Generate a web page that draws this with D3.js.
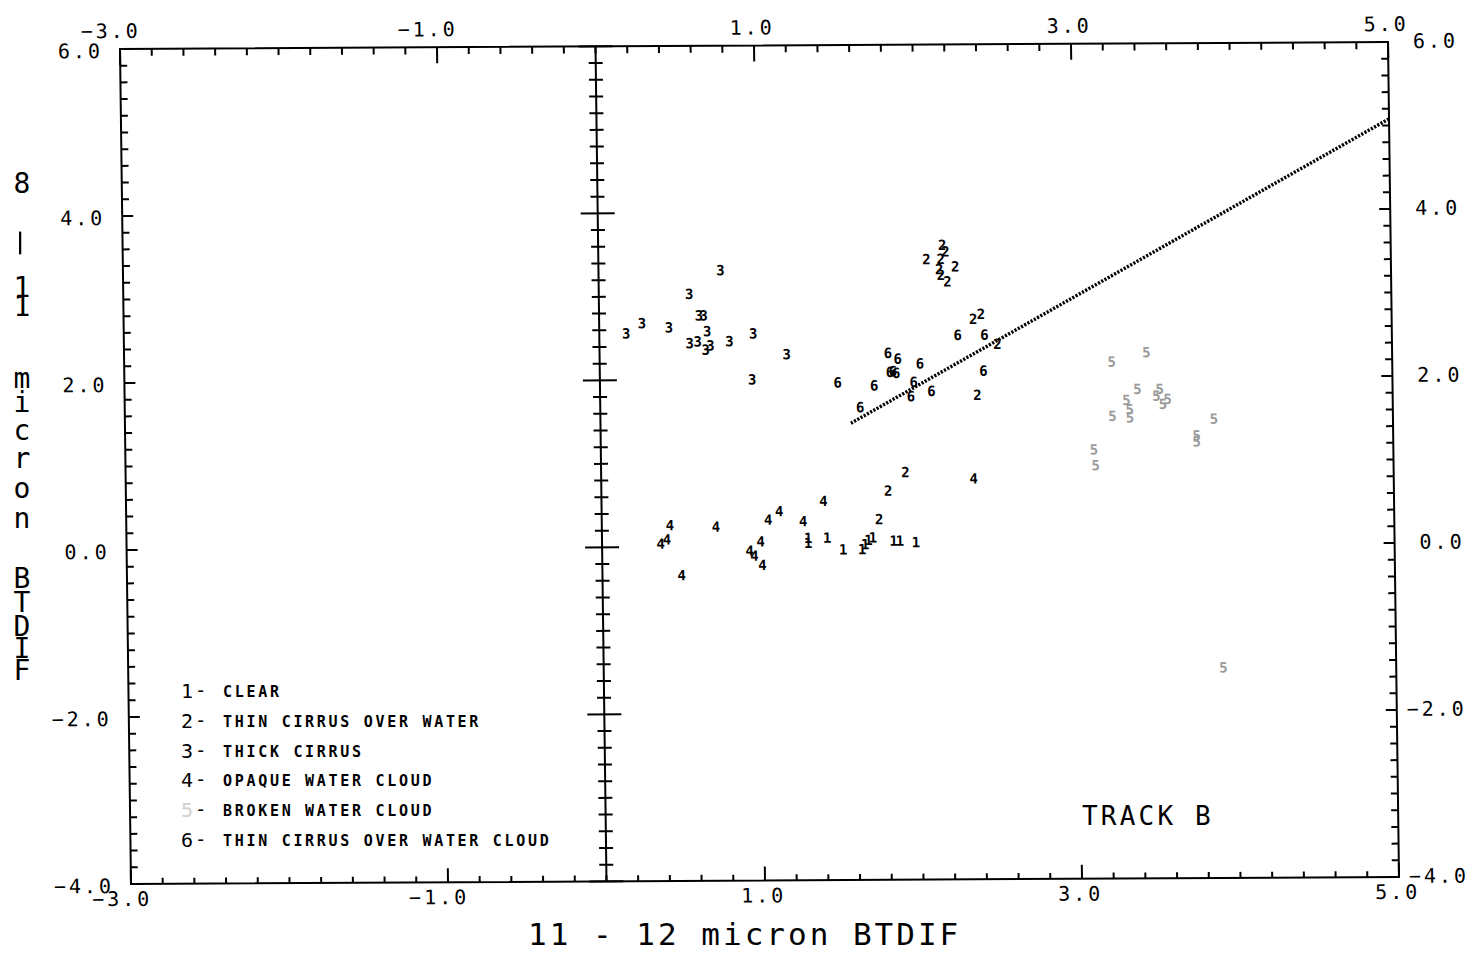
<!DOCTYPE html>
<html><head><meta charset="utf-8">
<script src="https://cdn.jsdelivr.net/npm/d3@7"></script>
<style>body{margin:0;background:#fff}svg{display:block}</style>
</head><body>
<svg id="c" width="1484" height="954"></svg>
<script>
// ---------------- data ----------------
const xTickLabels = [-3, -1, 1, 3, 5];
const yTickLabels = [6, 4, 2, 0, -2, -4];
const legendKeys = ["1", "2", "3", "4", "5", "6"];
const legendNames = ["CLEAR", "THIN CIRRUS OVER WATER", "THICK CIRRUS",
  "OPAQUE WATER CLOUD", "BROKEN WATER CLOUD", "THIN CIRRUS OVER WATER CLOUD"];

const clear = [[1.30,0.10],[1.30,0.04],[1.42,0.10],[1.52,-0.04],[1.64,-0.04],[1.66,0.02],
  [1.68,0.07],[1.71,0.10],[1.84,0.06],[1.88,0.06],[1.98,0.04]];
const thinCirrusWater = [[2.07,3.43],[2.17,3.60],[2.19,3.52],[2.16,3.43],[2.25,3.34],[2.15,3.31],
  [2.16,3.24],[2.20,3.16],[2.36,2.71],[2.41,2.77],[2.51,2.41],[2.38,1.80],[1.75,0.32],[1.81,0.66],[1.92,0.88]];
const thickCirrus = [[0.77,3.31],[0.57,3.03],[0.63,2.77],[0.66,2.77],[0.27,2.68],[0.44,2.63],[0.17,2.56],
  [0.68,2.58],[0.57,2.44],[0.62,2.46],[0.70,2.41],[0.67,2.36],[0.82,2.46],[0.97,2.55],[1.18,2.30],[0.96,2.00]];
const opaqueWater = [[0.43,0.26],[0.37,0.04],[0.41,0.09],[0.50,-0.34],[0.72,0.24],[0.93,-0.05],[0.96,-0.11],
  [1.00,0.06],[1.01,-0.22],[1.05,0.32],[1.12,0.42],[1.27,0.30],[1.40,0.54],[2.35,0.80]];
const brokenWater = [[3.45,2.30],[3.23,2.19],[3.39,1.86],[3.53,1.86],[3.58,1.74],[3.51,1.78],[3.55,1.68],
  [3.32,1.73],[3.34,1.62],[3.23,1.54],[3.34,1.52],[3.11,1.14],[3.12,0.95],[3.76,1.30],[3.76,1.23],[3.87,1.50],[3.91,-1.48]];
const thinCirrusCloud = [[1.82,2.31],[1.88,2.24],[1.85,2.09],[1.87,2.07],[1.83,2.08],[2.02,2.18],[1.50,1.96],
  [1.73,1.92],[1.98,1.96],[1.96,1.79],[2.09,1.85],[2.42,2.09],[1.64,1.66],[2.26,2.52],[2.43,2.52]];

const fitX = [1.58, 5.0];
const fitY = [1.47, 5.08];

// ---------------- chart ----------------
const W = 1268, H = 835;
const x = d3.scaleLinear().domain([-3, 5]).range([0, W]);
const y = d3.scaleLinear().domain([-4, 6]).range([H, 0]);
const svg = d3.select("#c");
const mono = "'DejaVu Sans Mono', monospace";

const g = svg.append("g")
  .attr("transform", `matrix(1,${-7/1268},${11/835},1,120,49)`);

g.append("rect").attr("x", 0).attr("y", 0).attr("width", W).attr("height", H)
  .attr("fill", "none").attr("stroke", "#000").attr("stroke-width", 2);

const isMajor = (v, arr) => arr.some(a => Math.abs(a - v) < 1e-6);
const xt = x.ticks(40), yt = y.ticks(50);
const tk = g.append("g").attr("stroke", "#000").attr("stroke-width", 2);

// top & bottom ticks
xt.forEach(v => {
  const m = isMajor(v, xTickLabels);
  tk.append("line").attr("x1", x(v)).attr("x2", x(v)).attr("y1", 0).attr("y2", m ? 16 : 7);
  tk.append("line").attr("x1", x(v)).attr("x2", x(v)).attr("y1", H).attr("y2", H - (m ? 14 : 6));
});
// left, right and centre ticks
yt.forEach(v => {
  const m = isMajor(v, yTickLabels);
  tk.append("line").attr("x1", 0).attr("x2", m ? 11 : 7).attr("y1", y(v)).attr("y2", y(v));
  tk.append("line").attr("x1", W).attr("x2", W - (m ? 11 : 7)).attr("y1", y(v)).attr("y2", y(v));
  const h = m ? 17 : 7;
  tk.append("line").attr("x1", x(0) - h).attr("x2", x(0) + h).attr("y1", y(v)).attr("y2", y(v));
});
// centre vertical axis
g.append("line").attr("x1", x(0)).attr("x2", x(0)).attr("y1", 0).attr("y2", H)
  .attr("stroke", "#000").attr("stroke-width", 2);

const fmt = d3.format(".1f");
const lab = g.append("g").attr("font-family", mono).attr("font-size", 20)
  .attr("letter-spacing", 3).attr("fill", "#000");
xTickLabels.forEach(v => {
  lab.append("text").attr("x", x(v) + 21).attr("y", -11).attr("text-anchor", "end").text(fmt(v));
  lab.append("text").attr("x", x(v) + 21).attr("y", H + 22).attr("text-anchor", "end").text(fmt(v));
});
yTickLabels.forEach(v => {
  lab.append("text").attr("x", -17).attr("y", y(v) + 9).attr("text-anchor", "end").text(fmt(v));
  lab.append("text").attr("x", W + 70).attr("y", y(v) + 6).attr("text-anchor", "end").text(fmt(v));
});

// regression line (dotted)
g.append("line").attr("x1", x(fitX[0])).attr("y1", y(fitY[0]))
  .attr("x2", x(fitX[1])).attr("y2", y(fitY[1]))
  .attr("stroke", "#000").attr("stroke-width", 3.4).attr("stroke-dasharray", "2.2,1.5");

// point markers (class digits)
const series = [
  {k: "1", d: clear, c: "#000"},
  {k: "2", d: thinCirrusWater, c: "#000"},
  {k: "3", d: thickCirrus, c: "#000"},
  {k: "4", d: opaqueWater, c: "#000"},
  {k: "5", d: brokenWater, c: "#9a9a9a"},
  {k: "6", d: thinCirrusCloud, c: "#000"}
];
const pts = g.append("g").attr("font-family", mono).attr("font-weight", "bold")
  .attr("font-size", 14).attr("text-anchor", "middle").attr("dominant-baseline", "central");
series.forEach(s => {
  pts.selectAll(null).data(s.d).enter().append("text")
    .attr("x", d => x(d[0])).attr("y", d => y(d[1]))
    .attr("fill", s.c).text(s.k);
});

// legend
const lg = svg.append("g").attr("font-family", mono);
legendKeys.forEach((k, i) => {
  const by = 698 + i * 29.8;
  lg.append("text").attr("x", 181).attr("y", by).attr("font-size", 20)
    .attr("fill", k === "5" ? "#d0d0d0" : "#000").text(k);
  lg.append("text").attr("x", 195).attr("y", by - 1).attr("font-size", 19).text("-");
  lg.append("text").attr("x", 223).attr("y", by - 1).attr("font-size", 15)
    .attr("font-weight", "bold").attr("letter-spacing", 2.7).text(legendNames[i]);
});

// annotation
svg.append("text").attr("x", 1082).attr("y", 825).attr("font-family", mono)
  .attr("font-size", 26).attr("letter-spacing", 3.2).text("TRACK B");

// x title
svg.append("text").attr("x", 528).attr("y", 945).attr("font-family", mono)
  .attr("font-size", 31).attr("letter-spacing", 3).text("11 - 12 micron BTDIF");

// y title (stacked characters)
const yTitle = "8 - 11 micron BTDIF".replace(/ /g, "").split("");
const yPos = [183, 243, 287, 306, 378, 402, 430, 458, 488, 518, 578, 602, 626, 648, 670];
const yt2 = svg.append("g").attr("font-family", mono).attr("font-size", 28)
  .attr("text-anchor", "middle").attr("dominant-baseline", "central");
yTitle.forEach((ch, i) => {
  const t = yt2.append("text").attr("x", 22).attr("y", yPos[i]).text(ch);
  if (ch === "-") t.attr("transform", `translate(22,${yPos[i]}) rotate(90) scale(3.2,1) translate(-22,${-yPos[i]})`);
});
</script>
</body></html>
